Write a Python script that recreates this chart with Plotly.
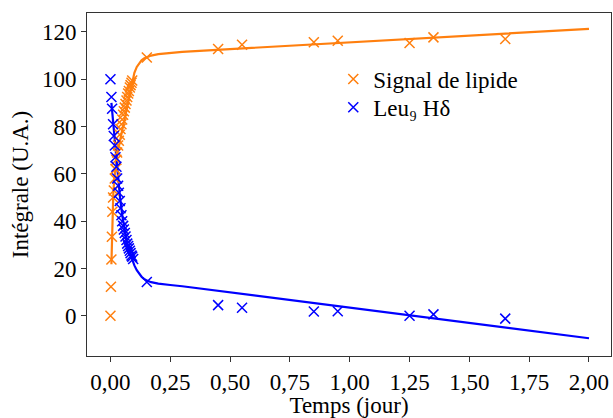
import plotly.graph_objects as go

# ---- data ----
lipid_t = [0, 0.002, 0.004, 0.006, 0.008, 0.011, 0.014, 0.018, 0.021, 0.025, 0.028, 0.032,
           0.035, 0.039, 0.042, 0.046, 0.049, 0.053, 0.056, 0.060, 0.063, 0.067, 0.070,
           0.074, 0.077, 0.081, 0.084, 0.088, 0.091, 0.152, 0.45, 0.55, 0.85, 0.95, 1.25,
           1.35, 1.65]
lipid_y = [0, 12.3, 23.8, 33.4, 44, 50, 53, 58, 62, 66, 69, 72, 74, 76.5, 79, 81, 83, 85,
           86.5, 88, 89.5, 91, 92.5, 94, 95, 96.5, 97.5, 98.5, 99.5, 109.2, 112.8, 114.6,
           115.6, 116.3, 115.3, 117.7, 117.0]

leu_t = [0, 0.004, 0.007, 0.011, 0.014, 0.018, 0.021, 0.025, 0.028, 0.032, 0.035, 0.039,
         0.042, 0.046, 0.049, 0.053, 0.056, 0.060, 0.063, 0.067, 0.070, 0.074, 0.077, 0.081,
         0.084, 0.088, 0.091, 0.095, 0.152, 0.45, 0.55, 0.85, 0.95, 1.25, 1.35, 1.65]
leu_y = [100, 92.5, 87.5, 81, 76, 72, 67, 63, 58, 55, 52, 48.5, 45.5, 42.5, 40, 38, 36.5,
         35, 33.5, 32, 30.5, 29.5, 28.5, 27.5, 26.5, 25.5, 25, 24, 14.3, 4.5, 3.4, 1.8, 1.9,
         0, 0.6, -1.2]

# fitted curves
lipid_fit_t = [0.004, 0.006, 0.008, 0.010, 0.012, 0.016, 0.02, 0.025, 0.03, 0.04, 0.05, 0.06,
               0.07, 0.08, 0.09, 0.10, 0.11, 0.12, 0.13, 0.14, 0.15, 0.17, 0.2, 0.25, 0.3, 2.0]
lipid_fit_y = [21.8, 30, 38, 46, 52, 58, 62, 66, 69, 74, 79, 84, 89, 94, 99, 102.7, 105.2,
               106.9, 108.0, 108.8, 109.3, 110.0, 110.6, 111.2, 111.6, 121.3]
leu_fit_t = [0.004, 0.01, 0.02, 0.03, 0.04, 0.05, 0.06, 0.07, 0.08, 0.09, 0.10, 0.11, 0.12,
             0.13, 0.14, 0.15, 0.17, 0.2, 0.25, 0.3, 2.0]
leu_fit_y = [90, 83, 71, 60, 50, 42, 35.5, 30.5, 26.8, 23.8, 21.3, 19.3, 17.7, 16.5, 15.6,
             15.0, 14.2, 13.6, 13.0, 12.5, -9.5]

x_ticks = [0, 0.25, 0.5, 0.75, 1.0, 1.25, 1.5, 1.75, 2.0]
x_ticktext = ["0,00", "0,25", "0,50", "0,75", "1,00", "1,25", "1,50", "1,75", "2,00"]
y_ticks = [0, 20, 40, 60, 80, 100, 120]

ORANGE = "#ff7f0e"
BLUE = "#0000ff"
FONT = "Liberation Serif, DejaVu Serif, Noto Serif, Times New Roman, Times, serif"
FS = 23

fig = go.Figure()
fig.add_trace(go.Scatter(x=lipid_fit_t, y=lipid_fit_y, mode="lines",
                         line=dict(color=ORANGE, width=2.2),
                         showlegend=False, hoverinfo="skip"))
fig.add_trace(go.Scatter(x=leu_fit_t, y=leu_fit_y, mode="lines",
                         line=dict(color=BLUE, width=2.2),
                         showlegend=False, hoverinfo="skip"))
fig.add_trace(go.Scatter(x=lipid_t, y=lipid_y, mode="markers", name="Signal de lipide",
                         legend="legend",
                         marker=dict(symbol="x-thin", size=10, color=ORANGE,
                                     line=dict(color=ORANGE, width=1.5))))
fig.add_trace(go.Scatter(x=leu_t, y=leu_y, mode="markers", name="Leu₉ Hδ",
                         legend="legend2",
                         marker=dict(symbol="x-thin", size=10, color=BLUE,
                                     line=dict(color=BLUE, width=1.5))))

axis_common = dict(showline=True, linecolor="#333", linewidth=1, mirror=True,
                   ticks="outside", ticklen=5, tickwidth=1, tickcolor="#333",
                   showgrid=False, zeroline=False, automargin=False,
                   tickfont=dict(family=FONT, size=FS, color="black"))

fig.update_xaxes(range=[-0.098, 2.092], tickvals=x_ticks, ticktext=x_ticktext,
                 title=dict(text="Temps (jour)", font=dict(family=FONT, size=FS, color="black"),
                            standoff=0),
                 **axis_common)
fig.update_yaxes(range=[-17, 128], tickvals=y_ticks,
                 title=dict(text="Intégrale (U.A.)", font=dict(family=FONT, size=FS, color="black"),
                            standoff=6),
                 **axis_common)

legend_style = dict(xanchor="left", yanchor="top", bgcolor="rgba(0,0,0,0)", borderwidth=0,
                    font=dict(family=FONT, size=FS, color="black"), itemwidth=30)

fig.update_layout(
    width=613, height=418,
    margin=dict(l=87, r=2, t=13, b=62, autoexpand=False),
    plot_bgcolor="white", paper_bgcolor="white",
    font=dict(family=FONT, size=FS, color="black"),
    legend=dict(x=0.47, y=0.87, **legend_style),
    legend2=dict(x=0.47, y=0.788, **legend_style),
)

fig.write_html("out.html", config={"displayModeBar": False},
               post_script="document.body.style.margin='0';document.body.style.padding='0';")
